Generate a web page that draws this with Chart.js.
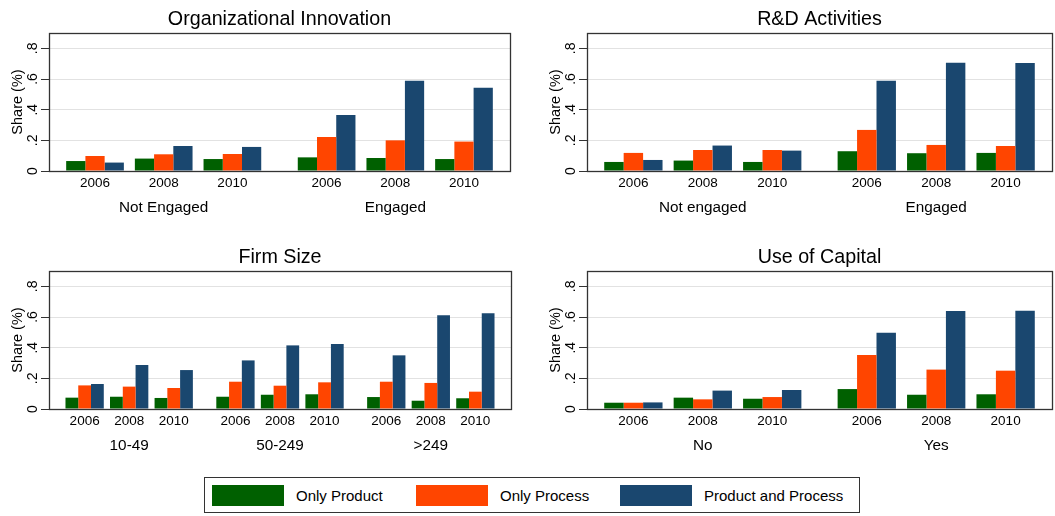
<!DOCTYPE html>
<html>
<head>
<meta charset="utf-8">
<script src="https://cdn.jsdelivr.net/npm/chart.js@4.4.1/dist/chart.umd.min.js"></script>
<style>
  html, body { margin: 0; padding: 0; background: #fff; }
  body { width: 1055px; height: 516px; position: relative; overflow: hidden; font-family: "Liberation Sans", Arial, sans-serif; }
  canvas { position: absolute; }
  #legend { position: absolute; left: 204px; top: 477px; width: 654px; height: 34px; border: 1px solid #333; box-sizing: content-box; }
  .item { position: absolute; top: 7px; height: 21px; display: flex; align-items: center; }
  .sw { width: 72px; height: 21px; margin-right: 12px; }
  .lbl { font-size: 15px; color: #000; white-space: nowrap; }
</style>
</head>
<body>
<canvas id="c1" width="527" height="226" style="left:0px;top:0px"></canvas>
<canvas id="c2" width="517" height="226" style="left:538px;top:0px"></canvas>
<canvas id="c3" width="527" height="226" style="left:0px;top:238px"></canvas>
<canvas id="c4" width="517" height="226" style="left:538px;top:238px"></canvas>
<div id="legend"></div>
<script>
// ---------- DATA ----------
const seriesNames = ['Only Product', 'Only Process', 'Product and Process'];
const years = ['2006', '2008', '2010'];
const yTickValues = [0, 0.2, 0.4, 0.6, 0.8];
const yTickLabels = ['0', '.2', '.4', '.6', '.8'];

const orgGroups = ['Not Engaged', 'Engaged'];
const orgOnlyProduct = [0.065, 0.081, 0.078, 0.089, 0.085, 0.078];
const orgOnlyProcess = [0.098, 0.109, 0.111, 0.222, 0.200, 0.192];
const orgBoth        = [0.055, 0.163, 0.157, 0.366, 0.588, 0.543];

const rdGroups = ['Not engaged', 'Engaged'];
const rdOnlyProduct = [0.059, 0.068, 0.059, 0.129, 0.116, 0.118];
const rdOnlyProcess = [0.118, 0.137, 0.137, 0.268, 0.170, 0.163];
const rdBoth        = [0.072, 0.166, 0.133, 0.588, 0.706, 0.704];

const sizeGroups = ['10-49', '50-249', '>249'];
const sizeOnlyProduct = [0.074, 0.080, 0.072, 0.080, 0.093, 0.096, 0.078, 0.054, 0.070];
const sizeOnlyProcess = [0.154, 0.146, 0.137, 0.178, 0.152, 0.174, 0.178, 0.170, 0.113];
const sizeBoth        = [0.163, 0.287, 0.254, 0.317, 0.415, 0.424, 0.350, 0.611, 0.624];

const capGroups = ['No', 'Yes'];
const capOnlyProduct = [0.041, 0.074, 0.067, 0.130, 0.093, 0.096];
const capOnlyProcess = [0.041, 0.063, 0.078, 0.352, 0.257, 0.250];
const capBoth        = [0.043, 0.120, 0.124, 0.498, 0.639, 0.641];

// ---------- STYLE ----------
const colors = ['#006000', '#ff4500', '#1a476f'];
const FONT = '"Liberation Sans", Arial, sans-serif';

function makePanel(id, title, groups, series, lay) {
  const n = years.length;
  const groupSpan = (n - 1) + lay.groupStep;
  const pos = [];
  groups.forEach((g, gi) => years.forEach((y, yi) => pos.push(gi * groupSpan + yi)));
  const groupPos = groups.map((g, gi) => gi * groupSpan + (n - 1) / 2);
  const xmin = -lay.edge, xmax = pos[pos.length - 1] + lay.edge;

  const datasets = series.map((vals, si) => ({
    label: seriesNames[si],
    data: vals.map((v, k) => ({ x: pos[k], y: v })),
    backgroundColor: colors[si],
    borderWidth: 0,
    barPercentage: 1.0,
    categoryPercentage: lay.catPct,
    xAxisID: 'x', yAxisID: 'y'
  }));

  const panelPlugin = {
    id: 'panelDecor' + id,
    afterDatasetsDraw(chart) {
      const ctx = chart.ctx, a = chart.chartArea, ys = chart.scales.y;
      ctx.save();
      ctx.strokeStyle = '#333';
      ctx.lineWidth = 1.3;
      ctx.strokeRect(Math.round(a.left) + 0.5, Math.round(a.top) + 0.5,
                     Math.round(a.right - a.left), Math.round(a.bottom - a.top));
      ctx.fillStyle = '#000';
      ctx.font = '14px ' + FONT;
      ctx.textAlign = 'center';
      ctx.textBaseline = 'middle';
      yTickValues.forEach((v, i) => {
        const py = ys.getPixelForValue(v);
        ctx.save();
        ctx.translate(a.left - 16, py);
        ctx.rotate(-Math.PI / 2);
        ctx.fillText(yTickLabels[i], 0, 0);
        ctx.restore();
      });
      ctx.restore();
    }
  };

  return new Chart(document.getElementById(id), {
    type: 'bar',
    data: { datasets },
    plugins: [panelPlugin],
    options: {
      responsive: false,
      animation: false,
      layout: { padding: { left: 0, right: lay.padRight, top: 0, bottom: 0 } },
      plugins: {
        legend: { display: false },
        tooltip: { enabled: false },
        title: {
          display: true, text: title, fullSize: false, color: '#000',
          font: { family: FONT, size: 19.7, weight: 'normal' },
          padding: { top: 8, bottom: 1.4 }
        }
      },
      scales: {
        x: {
          type: 'linear', position: 'bottom', min: xmin, max: xmax, weight: 0, offset: false,
          grid: { display: false, drawTicks: false, offset: false },
          border: { display: false },
          afterBuildTicks: (s) => { s.ticks = pos.map(v => ({ value: v })); },
          afterFit: (s) => { s.height = 22; },
          ticks: {
            autoSkip: false, maxRotation: 0, minRotation: 0, padding: 4, color: '#000',
            font: { family: FONT, size: 13.5 },
            callback: (v, i) => years[i % n]
          }
        },
        x2: {
          type: 'linear', position: 'bottom', min: xmin, max: xmax, weight: 1, offset: false,
          grid: { display: false, drawTicks: false, offset: false },
          border: { display: false },
          afterBuildTicks: (s) => { s.ticks = groupPos.map(v => ({ value: v })); },
          afterFit: (s) => { s.height = 33; },
          ticks: {
            autoSkip: false, maxRotation: 0, minRotation: 0, padding: 6, color: '#000',
            font: { family: FONT, size: 15.3 },
            callback: (v, i) => groups[i]
          }
        },
        y: {
          type: 'linear', position: 'left', min: 0, max: 0.9,
          afterBuildTicks: (s) => { s.ticks = yTickValues.map(v => ({ value: v })); },
          afterFit: (s) => { s.width = 49; },
          grid: { color: '#e2e2e2', lineWidth: 1, drawTicks: true, tickLength: 8, tickColor: '#333', tickWidth: 1 },
          border: { display: false },
          ticks: { display: false },
          title: {
            display: true, text: 'Share (%)', color: '#000',
            font: { family: FONT, size: 14.5 },
            padding: { top: 9, bottom: 0 }
          }
        }
      }
    }
  });
}

makePanel('c1', 'Organizational Innovation', orgGroups, [orgOnlyProduct, orgOnlyProcess, orgBoth],
  { groupStep: 1.372, edge: 0.67, catPct: 0.84, padRight: 17 });
makePanel('c2', 'R&D Activities', rdGroups, [rdOnlyProduct, rdOnlyProcess, rdBoth],
  { groupStep: 1.362, edge: 0.668, catPct: 0.84, padRight: 3 });
makePanel('c3', 'Firm Size', sizeGroups, [sizeOnlyProduct, sizeOnlyProcess, sizeBoth],
  { groupStep: 1.386, edge: 0.80, catPct: 0.86, padRight: 16 });
makePanel('c4', 'Use of Capital', capGroups, [capOnlyProduct, capOnlyProcess, capBoth],
  { groupStep: 1.362, edge: 0.668, catPct: 0.84, padRight: 3 });

// ---------- LEGEND ----------
const legend = document.getElementById('legend');
seriesNames.forEach((name, i) => {
  const it = document.createElement('div');
  it.className = 'item';
  it.style.left = (7 + i * 204) + 'px';
  const sw = document.createElement('div');
  sw.className = 'sw';
  sw.style.background = colors[i];
  const lb = document.createElement('span');
  lb.className = 'lbl';
  lb.textContent = name;
  it.appendChild(sw); it.appendChild(lb);
  legend.appendChild(it);
});
</script>
</body>
</html>
